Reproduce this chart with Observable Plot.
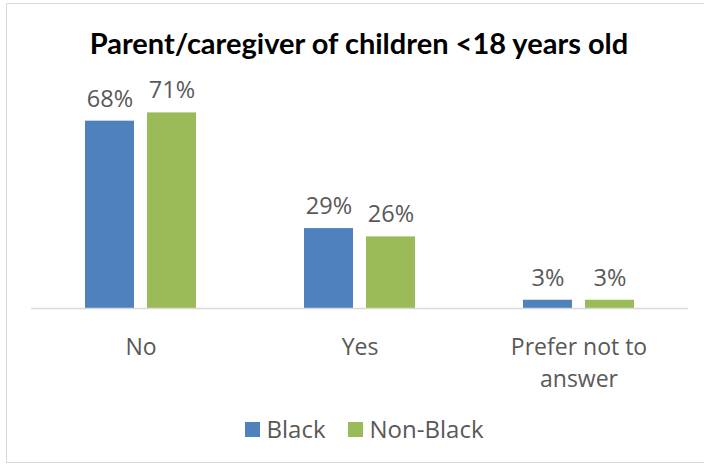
<!DOCTYPE html>
<html>
<head>
<meta charset="utf-8">
<script src="https://cdn.jsdelivr.net/npm/d3@7"></script>
<script src="https://cdn.jsdelivr.net/npm/@observablehq/plot@0.6"></script>
<style>
  html, body { margin: 0; padding: 0; background: #fff; }
  #wrap { position: relative; width: 704px; height: 466px; overflow: hidden; font-family: "Open Sans", sans-serif; }
  #frame { position: absolute; left: 6px; top: 3px; width: 720px; height: 460px; border: 1.5px solid #d9d9d9; box-sizing: border-box; }
  #title { position: absolute; left: 0; width: 718px; top: 25px; text-align: center; font-family: Lato, sans-serif; font-weight: bold; font-size: 29px; color: #000; line-height: 36px; }
  #chart { position: absolute; left: 0; top: 60px; }
  #legend { position: absolute; top: 414px; left: 5px; width: 718px; text-align: center; font-size: 24px; color: #595959; line-height: 30px; }
  .sw { display: inline-block; width: 15px; height: 15px; margin-right: 7px; vertical-align: 1px; }
  .item { display: inline-block; margin: 0 11px; }
</style>
</head>
<body>
<div id="wrap">
  <div id="frame"></div>
  <div id="title"></div>
  <div id="chart"></div>
  <div id="legend"></div>
</div>
<script>
const title = "Parent/caregiver of children <18 years old";
const categories = ["No", "Yes", "Prefer not to answer"];
const categoryLabels = ["No", "Yes", "Prefer not to\nanswer"];
const series = ["Black", "Non-Black"];
const blackValues = [68, 29, 3];
const nonBlackValues = [71, 26, 3];
const colors = ["#4f81bd", "#9bbb59"];

const data = [];
categories.forEach((c, i) => {
  data.push({category: c, series: series[0], value: blackValues[i]});
  data.push({category: c, series: series[1], value: nonBlackValues[i]});
});

document.getElementById("title").textContent = title;

const chart = Plot.plot({
  width: 704,
  height: 340,
  marginTop: 27.6,
  marginBottom: 92,
  marginLeft: 31,
  marginRight: 16,
  style: {fontFamily: "Open Sans, sans-serif", fontSize: "23px", color: "#595959", background: "transparent"},
  fx: {domain: categories, padding: 0, axis: null},
  x: {domain: series, paddingInner: 0.21, paddingOuter: 0.871, axis: null},
  y: {domain: [0, 80], axis: null},
  color: {domain: series, range: colors},
  marks: [
    Plot.barY(data, {fx: "category", x: "series", y: "value", fill: "series"}),
    Plot.text(data, {fx: "category", x: "series", y: "value", text: d => d.value + "%", dy: -22, fill: "#595959", fontSize: 23.5}),
    Plot.ruleY([0], {stroke: "#d9d9d9", strokeWidth: 1.5}),
    Plot.text(categories, {fx: d => d, text: d => categoryLabels[categories.indexOf(d)], frameAnchor: "bottom", lineAnchor: "top", dy: 24, lineHeight: 1.39, fill: "#595959", fontSize: 23})
  ]
});
document.getElementById("chart").appendChild(chart);

const legend = document.getElementById("legend");
series.forEach((s, i) => {
  const item = document.createElement("span");
  item.className = "item";
  const sw = document.createElement("span");
  sw.className = "sw";
  sw.style.background = colors[i];
  item.appendChild(sw);
  item.appendChild(document.createTextNode(s));
  legend.appendChild(item);
});
</script>
</body>
</html>
